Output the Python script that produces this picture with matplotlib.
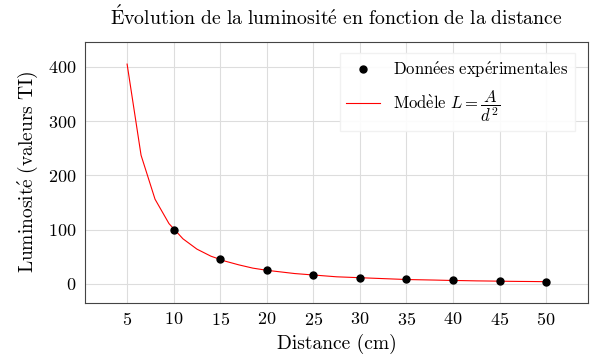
import numpy as np
import matplotlib
matplotlib.use('Agg')
import matplotlib.pyplot as plt

plt.rcParams['font.family'] = ['cmr10', 'DejaVu Serif']
plt.rcParams['mathtext.fontset'] = 'cm'
plt.rcParams['axes.formatter.use_mathtext'] = True

# mesures (distance en cm, luminosite en valeurs TI)
distances = [10, 15, 20, 25, 30, 35, 40, 45, 50]
luminosites = [100, 46, 26, 17, 11, 8.5, 6.5, 5, 4]

# courbe modele
model_x = [5, 6.5, 8, 9.5, 11, 12.5, 14, 15.5, 17, 18.5, 20, 21.5, 23, 24.5, 26, 27.5,
           29, 30.5, 32, 33.5, 35, 36.5, 38, 39.5, 41, 42.5, 44, 45.5, 47, 48.5, 50]
model_y = [405, 237, 156, 111, 83, 64, 51, 42, 35, 29, 25, 22, 19, 17, 15, 13,
           12, 11, 10, 9, 8, 7.5, 7, 6.4, 6, 5.5, 5.2, 4.8, 4.5, 4.3, 4]

xticks = [5, 10, 15, 20, 25, 30, 35, 40, 45, 50]
yticks = [0, 100, 200, 300, 400]

# textes (accents via mathtext pour garder la police Computer Modern)
titre = r"$\mathrm{\'Evolution\ de\ la\ luminosit\'e\ en\ fonction\ de\ la\ distance}$"
label_x = 'Distance (cm)'
label_y = r"$\mathrm{Luminosit\'e\ (valeurs\ TI)}$"
label_data = r"$\mathrm{Donn\'ees\ exp\'erimentales}$"
label_model = r"$\mathrm{Mod\`ele}\ L = \dfrac{A}{d^2}$"

fig = plt.figure(figsize=(6, 3.64), dpi=100)
ax = fig.add_axes([0.142, 0.168, 0.838, 0.717])

ax.plot(distances, luminosites, 'o', color='black', markersize=5,
        label=label_data, zorder=3)
ax.plot(model_x, model_y, '-', color='red', linewidth=0.8,
        label=label_model, zorder=2)

ax.set_xlim(0.5, 54.5)
ax.set_ylim(-35, 446)
ax.set_xticks(xticks)
ax.set_yticks(yticks)
ax.grid(True, color='#dddddd', linewidth=0.8)
ax.set_axisbelow(True)
ax.tick_params(length=0, labelsize=13, pad=6)
for s in ax.spines.values():
    s.set_color('#444444')
    s.set_linewidth(0.8)

ax.set_xlabel(label_x, fontsize=14, labelpad=4)
ax.set_ylabel(label_y, fontsize=14, labelpad=6)
ax.set_title(titre, fontsize=14.3, pad=12)

leg = ax.legend(loc='upper right', fontsize=12, frameon=True, framealpha=0.9,
                edgecolor='#f0f0f0', fancybox=False, borderpad=0.4,
                handlelength=2.0, bbox_to_anchor=(0.99, 0.99))

fig.savefig('out.png', dpi=100)
